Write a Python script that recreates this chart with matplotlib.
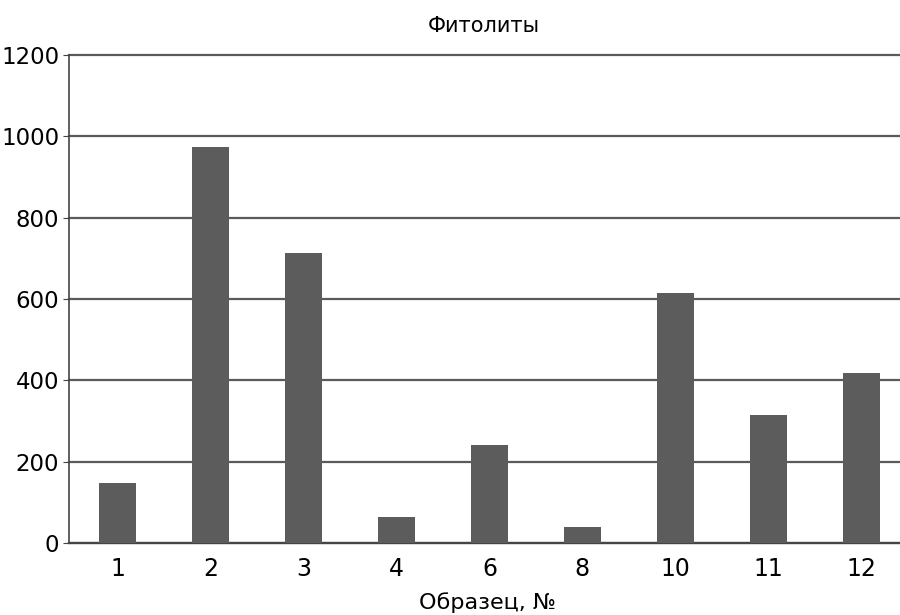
import numpy as np
import matplotlib.pyplot as plt

plt.rcParams['font.family'] = ['Liberation Sans Narrow', 'DejaVu Sans Condensed', 'DejaVu Sans']

samples = ['1', '2', '3', '4', '6', '8', '10', '11', '12']
counts = [148, 974, 713, 64, 241, 39, 615, 315, 418]
yticks = [0, 200, 400, 600, 800, 1000, 1200]

fig = plt.figure(figsize=(9, 6.15), dpi=100)
ax = fig.add_axes([0.0767, 0.117, 0.93, 0.7935])

x = np.arange(len(samples))
ax.bar(x, counts, width=0.39, color='#5c5c5c', zorder=3)

ax.set_ylim(0, 1200)
ax.set_xlim(-0.52, 8.48)
ax.set_yticks(yticks)
ax.set_xticks(x)
ax.set_xticklabels(samples)
ax.yaxis.grid(True, color='#5a5a5a', linewidth=1.6, zorder=1)
for gl in ax.get_ygridlines():
    gl.set_clip_on(False)
ax.set_axisbelow(True)

for s in ['top', 'right']:
    ax.spines[s].set_visible(False)
ax.spines['left'].set_color('#444444')
ax.spines['bottom'].set_color('#444444')
ax.spines['left'].set_linewidth(1.2)
ax.spines['bottom'].set_linewidth(1.6)

ax.tick_params(axis='x', length=0, labelsize=17, pad=10)
ax.tick_params(axis='y', length=4, color='#444444', labelsize=16.5, pad=3)

ax.set_xlabel('Образец, №', fontsize=16, labelpad=8)
fig.text(0.538, 0.957, 'Фитолиты', fontsize=15, ha='center', va='center')

fig.savefig('out.png', dpi=100)
